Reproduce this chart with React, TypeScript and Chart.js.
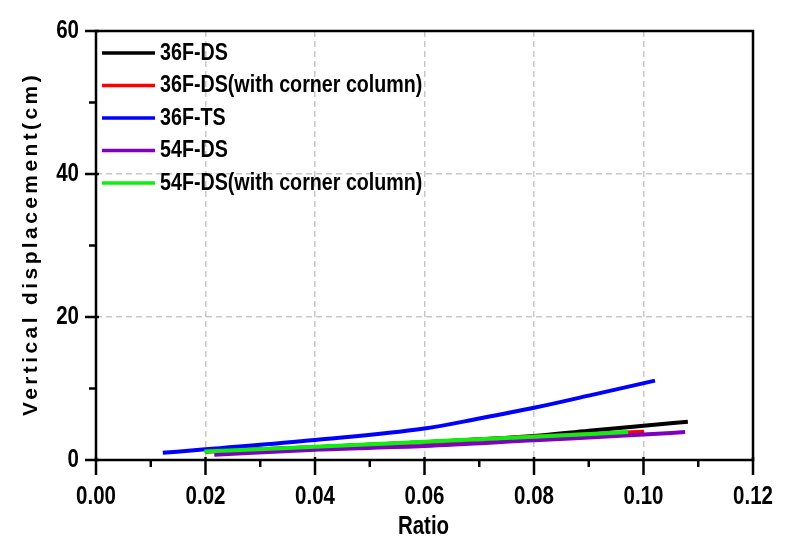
import React, { useEffect, useRef } from "react";
import { Chart, registerables } from "chart.js";

Chart.register(...registerables);

const seriesNames = [
  "36F-DS",
  "36F-DS(with corner column)",
  "36F-TS",
  "54F-DS",
  "54F-DS(with corner column)",
];
const seriesColors = ["#000000", "#ff0000", "#0000ff", "#8000c0", "#10ee10"];

const ratio36DS = [0.02, 0.04, 0.06, 0.08, 0.09, 0.1, 0.1081];
const disp36DS = [1.2, 1.8, 2.5, 3.35, 4.1, 4.8, 5.35];

const ratio36DSC = [0.02, 0.04, 0.06, 0.08, 0.1001];
const disp36DSC = [1.2, 1.8, 2.5, 3.3, 3.95];

const ratio36TS = [0.0122, 0.02, 0.04, 0.06, 0.07, 0.08, 0.09, 0.1021];
const disp36TS = [1.0, 1.5, 2.8, 4.4, 5.8, 7.3, 9.0, 11.1];

const ratio54DS = [0.0216, 0.04, 0.06, 0.08, 0.1, 0.1076];
const disp54DS = [0.75, 1.45, 1.95, 2.75, 3.55, 3.9];

const ratio54DSC = [0.0198, 0.04, 0.06, 0.08, 0.0972];
const disp54DSC = [1.2, 1.85, 2.55, 3.25, 3.9];

const seriesRatios = [ratio36DS, ratio36DSC, ratio36TS, ratio54DS, ratio54DSC];
const seriesDisps = [disp36DS, disp36DSC, disp36TS, disp54DS, disp54DSC];

const xTitle = "Ratio";
const yTitle = "Vertical displacement(cm)";
const xMin = 0, xMax = 0.12, xMajor = 0.02, xMinor = 0.01;
const yMin = 0, yMax = 60, yMajor = 20, yMinor = 10;

const FONT = "'Liberation Sans', Arial, sans-serif";
const NARROW_SCALE = 0.82;

function narrowText(ctx: CanvasRenderingContext2D, text: string, x: number, y: number, align: CanvasTextAlign) {
  ctx.save();
  ctx.translate(x, y);
  ctx.scale(NARROW_SCALE, 1);
  ctx.textAlign = align;
  ctx.fillText(text, 0, 0);
  ctx.restore();
}

const decorPlugin = {
  id: "decor",
  afterDraw(chart: any) {
    const ctx = chart.ctx as CanvasRenderingContext2D;
    const { left, right, top, bottom } = chart.chartArea;
    const xs = chart.scales.x;
    const ys = chart.scales.y;
    ctx.save();
    // frame
    ctx.strokeStyle = "#000";
    ctx.lineWidth = 2.5;
    ctx.strokeRect(left, top, right - left, bottom - top);
    // x ticks
    const nx = Math.round((xMax - xMin) / xMinor);
    for (let i = 0; i <= nx; i++) {
      const v = xMin + i * xMinor;
      const px = xs.getPixelForValue(v);
      const major = i % Math.round(xMajor / xMinor) === 0;
      ctx.beginPath();
      ctx.moveTo(px, bottom - (major ? 3 : 0));
      ctx.lineTo(px, bottom + (major ? 15 : 7));
      ctx.stroke();
    }
    const ny = Math.round((yMax - yMin) / yMinor);
    for (let i = 0; i <= ny; i++) {
      const v = yMin + i * yMinor;
      const py = ys.getPixelForValue(v);
      const major = i % Math.round(yMajor / yMinor) === 0;
      ctx.beginPath();
      ctx.moveTo(left + (major ? 3 : 0), py);
      ctx.lineTo(left - (major ? 11 : 7), py);
      ctx.stroke();
    }
    // tick labels
    ctx.fillStyle = "#000";
    ctx.textBaseline = "middle";
    ctx.font = `bold 25px ${FONT}`;
    for (const t of xs.ticks) {
      narrowText(ctx, Number(t.value).toFixed(2), xs.getPixelForValue(t.value), 497, "center");
    }
    for (const t of ys.ticks) {
      narrowText(ctx, String(t.value), 79, ys.getPixelForValue(t.value), "right");
    }
    // axis titles
    ctx.font = `bold 25px ${FONT}`;
    narrowText(ctx, xTitle, (left + right) / 2 - 1, 527, "center");
    ctx.save();
    ctx.translate(31, 244);
    ctx.rotate(-Math.PI / 2);
    ctx.textAlign = "center";
    ctx.font = `bold 21px ${FONT}`;
    (ctx as any).letterSpacing = "3.4px";
    ctx.fillText(yTitle, 0, 0);
    ctx.restore();
    // legend
    ctx.font = `bold 24px ${FONT}`;
    for (let i = 0; i < seriesNames.length; i++) {
      const y = 53 + i * 32.5;
      ctx.strokeStyle = seriesColors[i];
      ctx.lineWidth = 3.5;
      ctx.beginPath();
      ctx.moveTo(102, y);
      ctx.lineTo(155, y);
      ctx.stroke();
      ctx.fillStyle = "#000";
      narrowText(ctx, seriesNames[i], 160, y, "left");
    }
    ctx.restore();
  },
};

export default function App() {
  const ref = useRef<HTMLCanvasElement>(null);
  useEffect(() => {
    if (!ref.current) return;
    const datasets = seriesNames.map((name, i) => ({
      label: name,
      data: seriesRatios[i].map((x, j) => ({ x, y: seriesDisps[i][j] })),
      borderColor: seriesColors[i],
      backgroundColor: seriesColors[i],
      borderWidth: 4,
      pointRadius: 0,
      cubicInterpolationMode: "monotone" as const,
      fill: false,
      order: seriesNames.length - i,
    }));
    const gridColor = (ctx: any, lo: number, hi: number) => {
      const v = ctx.tick?.value;
      if (v === undefined) return "transparent";
      if (Math.abs(v - lo) < 1e-9 || Math.abs(v - hi) < 1e-9) return "transparent";
      return "#c8c8c8";
    };
    const chart = new Chart(ref.current, {
      type: "line",
      data: { datasets },
      plugins: [decorPlugin],
      options: {
        animation: false,
        responsive: true,
        maintainAspectRatio: false,
        layout: { padding: { top: 31, right: 35, left: 0, bottom: 0 } },
        plugins: { legend: { display: false }, tooltip: { enabled: false } },
        scales: {
          x: {
            type: "linear",
            min: xMin,
            max: xMax,
            afterFit: (s: any) => { s.height = 92; },
            ticks: { stepSize: xMajor, display: false },
            grid: {
              drawTicks: false,
              color: (c: any) => gridColor(c, xMin, xMax),
              lineWidth: 1.5,
            },
            border: { display: false, dash: [6, 4] },
          },
          y: {
            type: "linear",
            min: yMin,
            max: yMax,
            afterFit: (s: any) => { s.width = 96; },
            ticks: { stepSize: yMajor, display: false },
            grid: {
              drawTicks: false,
              color: (c: any) => gridColor(c, yMin, yMax),
              lineWidth: 1.5,
            },
            border: { display: false, dash: [6, 4] },
          },
        },
      },
    });
    return () => chart.destroy();
  }, []);
  return (
    <div style={{ position: "absolute", left: 0, top: 0, width: 788, height: 552, background: "#fff" }}>
      <canvas ref={ref} />
    </div>
  );
}
